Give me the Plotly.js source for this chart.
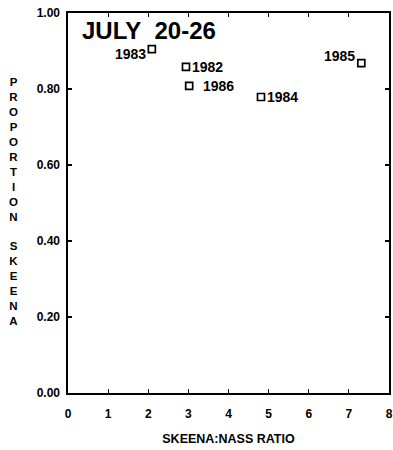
<!DOCTYPE html>
<html><head><meta charset="utf-8">
<script src="https://cdn.plot.ly/plotly-3.0.1.min.js"></script>
<style>html,body{margin:0;padding:0;background:#fff}#c{width:393px;height:450px}</style>
</head><body><div id="c"></div>
<script>
const years = ['1983','1982','1986','1984','1985'];
const ratio = [2.09, 2.94, 3.02, 4.81, 7.31];
const proportion = [0.905, 0.858, 0.808, 0.779, 0.868];
const xTicks = [0,1,2,3,4,5,6,7,8];
const yTicks = [0, 0.2, 0.4, 0.6, 0.8, 1.0];
const yTickText = ['0.00','0.20','0.40','0.60','0.80','1.00'];
const labelPos = ['middle left','middle right','middle right','middle right','top left'];

const fam = 'Liberation Sans, Arial, sans-serif';
const tick = {family:fam, size:12, color:'#000', weight:'bold'};

const trace = {
  x: ratio, y: proportion, mode:'markers',
  marker:{symbol:'square-open', size:7, color:'#000', line:{width:1.7, color:'#000'}},
  hoverinfo:'none', showlegend:false
};

const ann = years.map((yr,i)=>{
  const left = labelPos[i].indexOf('left')>=0;
  return {x: ratio[i], y: proportion[i], xref:'x', yref:'y', text: yr, showarrow:false,
    xanchor: left ? 'right':'left', yanchor:'middle',
    xshift: left ? -4 : (yr==='1986'? 12 : 4), yshift: (yr==='1983'? -5 : (yr==='1985'? 7 : 0)),
    font: {family:fam, size:14, color:'#000', weight:'bold'}};
});
ann.push({x:0.3, y:0.995, xref:'x', yref:'paper', text:'JULY&nbsp;&nbsp;20-26', showarrow:false,
  xanchor:'left', yanchor:'top', font:{family:fam, size:24, color:'#000', weight:'bold'}});
ann.push({x:-0.17, y:0.503, xref:'paper', yref:'paper', showarrow:false,
  text:'PROPORTION SKEENA'.split('').map(c=>c===' '?'&nbsp;':c).join('<br>'),
  xanchor:'center', yanchor:'middle', align:'center',
  font:{family:fam, size:11.5, color:'#000', weight:'bold'}});

const layout = {
  width:393, height:450,
  margin:{l:68, r:4, t:13, b:57},
  paper_bgcolor:'#fff', plot_bgcolor:'#fff',
  xaxis:{range:[0,8], tickvals:xTicks, ticks:'inside', ticklen:4, tickwidth:1.2, tickcolor:'#000',
    showline:true, linecolor:'#000', linewidth:1.6, mirror:'ticks', showgrid:false, zeroline:false,
    ticklabelstandoff:9, tickfont:tick, title:{text:'SKEENA:NASS RATIO', font:{family:fam, size:12.5, color:'#000', weight:'bold'}, standoff:14}},
  yaxis:{range:[0,1], tickvals:yTicks, ticktext:yTickText, ticks:'inside', ticklen:4, tickwidth:1.2, tickcolor:'#000',
    showline:true, linecolor:'#000', linewidth:1.6, mirror:'ticks', showgrid:false, zeroline:false,
    ticklabelstandoff:4, tickfont:tick},
  annotations: ann
};
Plotly.newPlot('c',[trace],layout,{displayModeBar:false,staticPlot:true});
</script></body></html>
